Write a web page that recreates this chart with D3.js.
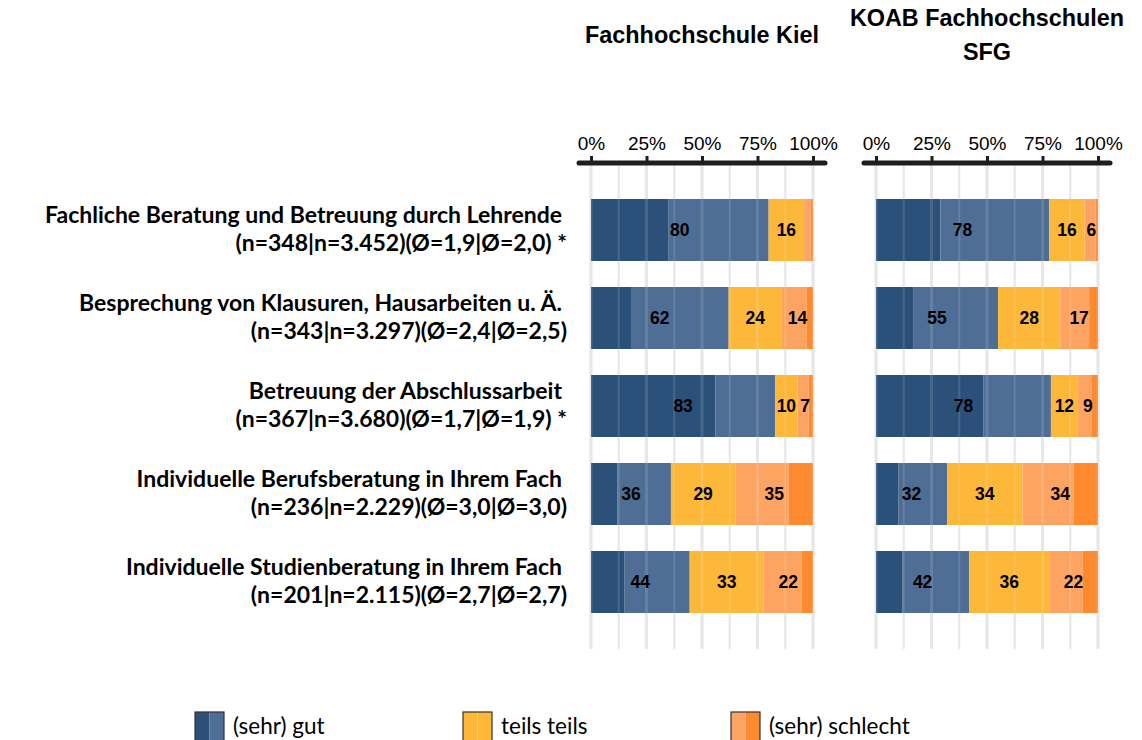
<!DOCTYPE html>
<html lang="de">
<head>
    <meta charset="UTF-8">
    <title>Beratung und Betreuung</title>
    <script src="https://d3js.org/d3.v7.min.js"></script>
    <style>
        body{
            margin: 0;
            background: #ffffff;
        }
        .cat{
            font-family: Lato, "Open Sans", sans-serif;
            font-weight: bold;
            font-size: 23px;
            fill: #000;
        }
        .head{
            font-family: "Liberation Sans", Arial, sans-serif;
            font-weight: bold;
            font-size: 23.4px;
        }
        .val{
            font-family: "Liberation Sans", Arial, sans-serif;
            font-weight: bold;
            font-size: 17.5px;
        }
        .tick text{
            font-family: "Liberation Sans", Arial, sans-serif;
            font-size: 19px;
        }
        .leg{
            font-family: Lato, "Open Sans", sans-serif;
            font-size: 22.5px;
        }
    </style>
</head>
<body>
<svg width="1142" height="740" id="chart"></svg>

<script>
    // Kategorien (Zeile 1 / Zeile 2)
    let items = ["Fachliche Beratung und Betreuung durch Lehrende",
        "Besprechung von Klausuren, Hausarbeiten u. Ä.",
        "Betreuung der Abschlussarbeit",
        "Individuelle Berufsberatung in Ihrem Fach",
        "Individuelle Studienberatung in Ihrem Fach"]
    let itemStats = ["(n=348|n=3.452)(Ø=1,9|Ø=2,0) *",
        "(n=343|n=3.297)(Ø=2,4|Ø=2,5)",
        "(n=367|n=3.680)(Ø=1,7|Ø=1,9) *",
        "(n=236|n=2.229)(Ø=3,0|Ø=3,0)",
        "(n=201|n=2.115)(Ø=2,7|Ø=2,7)"]

    let levels = ["sehr gut", "gut", "teils teils", "schlecht", "sehr schlecht"]

    // Prozentwerte je Stufe (sehr gut, gut, teils, schlecht, sehr schlecht)
    let kiel = [
        [35, 45, 16, 3, 1],
        [18, 44, 24, 11, 3],
        [56, 27, 10, 5, 2],
        [12, 24, 29, 24, 11],
        [15, 29, 33, 17, 5]]
    let koab = [
        [29, 49, 16, 5, 1],
        [17, 38, 28, 13, 4],
        [48, 30, 12, 6, 3],
        [10, 22, 34, 23, 11],
        [12, 30, 36, 15, 7]]

    let panelTitles = [["Fachhochschule Kiel"], ["KOAB Fachhochschulen", "SFG"]]
    let tickValues = [0, 25, 50, 75, 100]
    let gridValues = [0, 12.5, 25, 37.5, 50, 62.5, 75, 87.5, 100]
    let legendLabels = ["(sehr) gut", "teils teils", "(sehr) schlecht"]

    let colors = ["#2b5079", "#4e6e95", "#fdb739", "#fda462", "#fe8a2f"]

    let svg = d3.select("#chart")

    let y = d3.scaleBand()
        .domain(items)
        .range([186, 626])
        .paddingInner(0.2955)
        .paddingOuter(0.1477)

    // Beschriftung links
    let cats = svg.append("g")
    cats.selectAll("text.l1")
        .data(items)
        .join("text")
        .attr("class", "cat")
        .attr("x", 562)
        .attr("y", d => y(d) + y.bandwidth() / 2 - 7)
        .attr("text-anchor", "end")
        .text(d => d)
    cats.selectAll("text.l2")
        .data(itemStats)
        .join("text")
        .attr("class", "cat")
        .attr("x", 567)
        .attr("y", (d, i) => y(items[i]) + y.bandwidth() / 2 + 21)
        .attr("text-anchor", "end")
        .text(d => d)

    function panel(data, x0, titles){
        let x = d3.scaleLinear().domain([0, 100]).range([x0, x0 + 222])
        let g = svg.append("g")

        // Titel
        let cx = (x(0) + x(100)) / 2
        g.selectAll("text.head")
            .data(titles)
            .join("text")
            .attr("class", "head")
            .attr("x", cx)
            .attr("y", (d, i) => titles.length === 1 ? 43 : 26 + i * 34)
            .attr("text-anchor", "middle")
            .text(d => d)

        // Gitterlinien
        g.append("g").selectAll("line")
            .data(gridValues)
            .join("line")
            .attr("x1", d => x(d)).attr("x2", d => x(d))
            .attr("y1", 163).attr("y2", 649)
            .attr("stroke", "#e4e4e4")
            .attr("stroke-width", d => d % 25 === 0 ? 3 : 2)

        // gestapelte Balken
        let rows = data.map(function (vals, i) {
            let total = d3.sum(vals)
            let acc = 0
            return vals.map(function (v, k) {
                let s = acc / total * 100
                acc += v
                return {item: items[i], k: k, x0: s, x1: acc / total * 100}
            })
        })
        g.append("g").selectAll("rect")
            .data(rows.flat())
            .join("rect")
            .attr("x", d => x(d.x0))
            .attr("width", d => x(d.x1) - x(d.x0))
            .attr("y", d => y(d.item))
            .attr("height", y.bandwidth())
            .attr("fill", d => colors[d.k])

        // Gitter leicht über den Balken sichtbar
        g.append("g").selectAll("line")
            .data(gridValues)
            .join("line")
            .attr("x1", d => x(d)).attr("x2", d => x(d))
            .attr("y1", 163).attr("y2", 649)
            .attr("stroke", "#ffffff")
            .attr("stroke-opacity", 0.13)
            .attr("stroke-width", d => d % 25 === 0 ? 3 : 2)

        // Werte: gut+sehr gut, teils, schlecht+sehr schlecht
        let groups = [[0, 1], [2], [3, 4]]
        let labels = []
        data.forEach(function (vals, i) {
            groups.forEach(function (gr) {
                let v = d3.sum(gr, k => vals[k])
                let a = rows[i][gr[0]].x0
                let b = rows[i][gr[gr.length - 1]].x1
                if (v >= 5) labels.push({item: items[i], v: v, mid: (a + b) / 2})
            })
        })
        g.append("g").selectAll("text")
            .data(labels)
            .join("text")
            .attr("class", "val")
            .attr("x", d => x(d.mid))
            .attr("y", d => y(d.item) + y.bandwidth() / 2)
            .attr("dy", "0.36em")
            .attr("text-anchor", "middle")
            .text(d => d.v)

        // Achse
        g.append("line")
            .attr("x1", x(0) - 12).attr("x2", x(100) + 12)
            .attr("y1", 163).attr("y2", 163)
            .attr("stroke", "#1e1e1e")
            .attr("stroke-width", 5)
            .attr("stroke-linecap", "round")
        let ax = g.append("g")
            .attr("transform", "translate(0,163)")
            .call(d3.axisTop(x).tickValues(tickValues).tickFormat(d => d + "%").tickSize(7).tickPadding(6))
        ax.select(".domain").remove()
        ax.selectAll(".tick line").attr("stroke", "#1e1e1e").attr("stroke-width", 3)
        ax.selectAll(".tick text").attr("fill", "#000")
    }

    panel(kiel, 591, panelTitles[0])
    panel(koab, 876, panelTitles[1])

    // Legende
    let legX = [195, 463, 731]
    let leg = svg.append("g")
    legendLabels.forEach(function (lab, i) {
        let lg = leg.append("g").attr("transform", "translate(" + legX[i] + ",712)")
        let parts = i === 0 ? [colors[0], colors[1]] : i === 1 ? [colors[2], colors[2]] : [colors[3], colors[4]]
        lg.selectAll("rect.p")
            .data(parts)
            .join("rect")
            .attr("x", (d, k) => k * 14.5)
            .attr("y", 0)
            .attr("width", 14.5)
            .attr("height", 40)
            .attr("fill", d => d)
        lg.append("rect")
            .attr("x", 0).attr("y", 0)
            .attr("width", 29).attr("height", 40)
            .attr("fill", "none")
            .attr("stroke", "#333")
            .attr("stroke-width", 1.2)
        lg.append("text")
            .attr("class", "leg")
            .attr("x", 38)
            .attr("y", 22)
            .text(lab)
    })
</script>

</body>
</html>
